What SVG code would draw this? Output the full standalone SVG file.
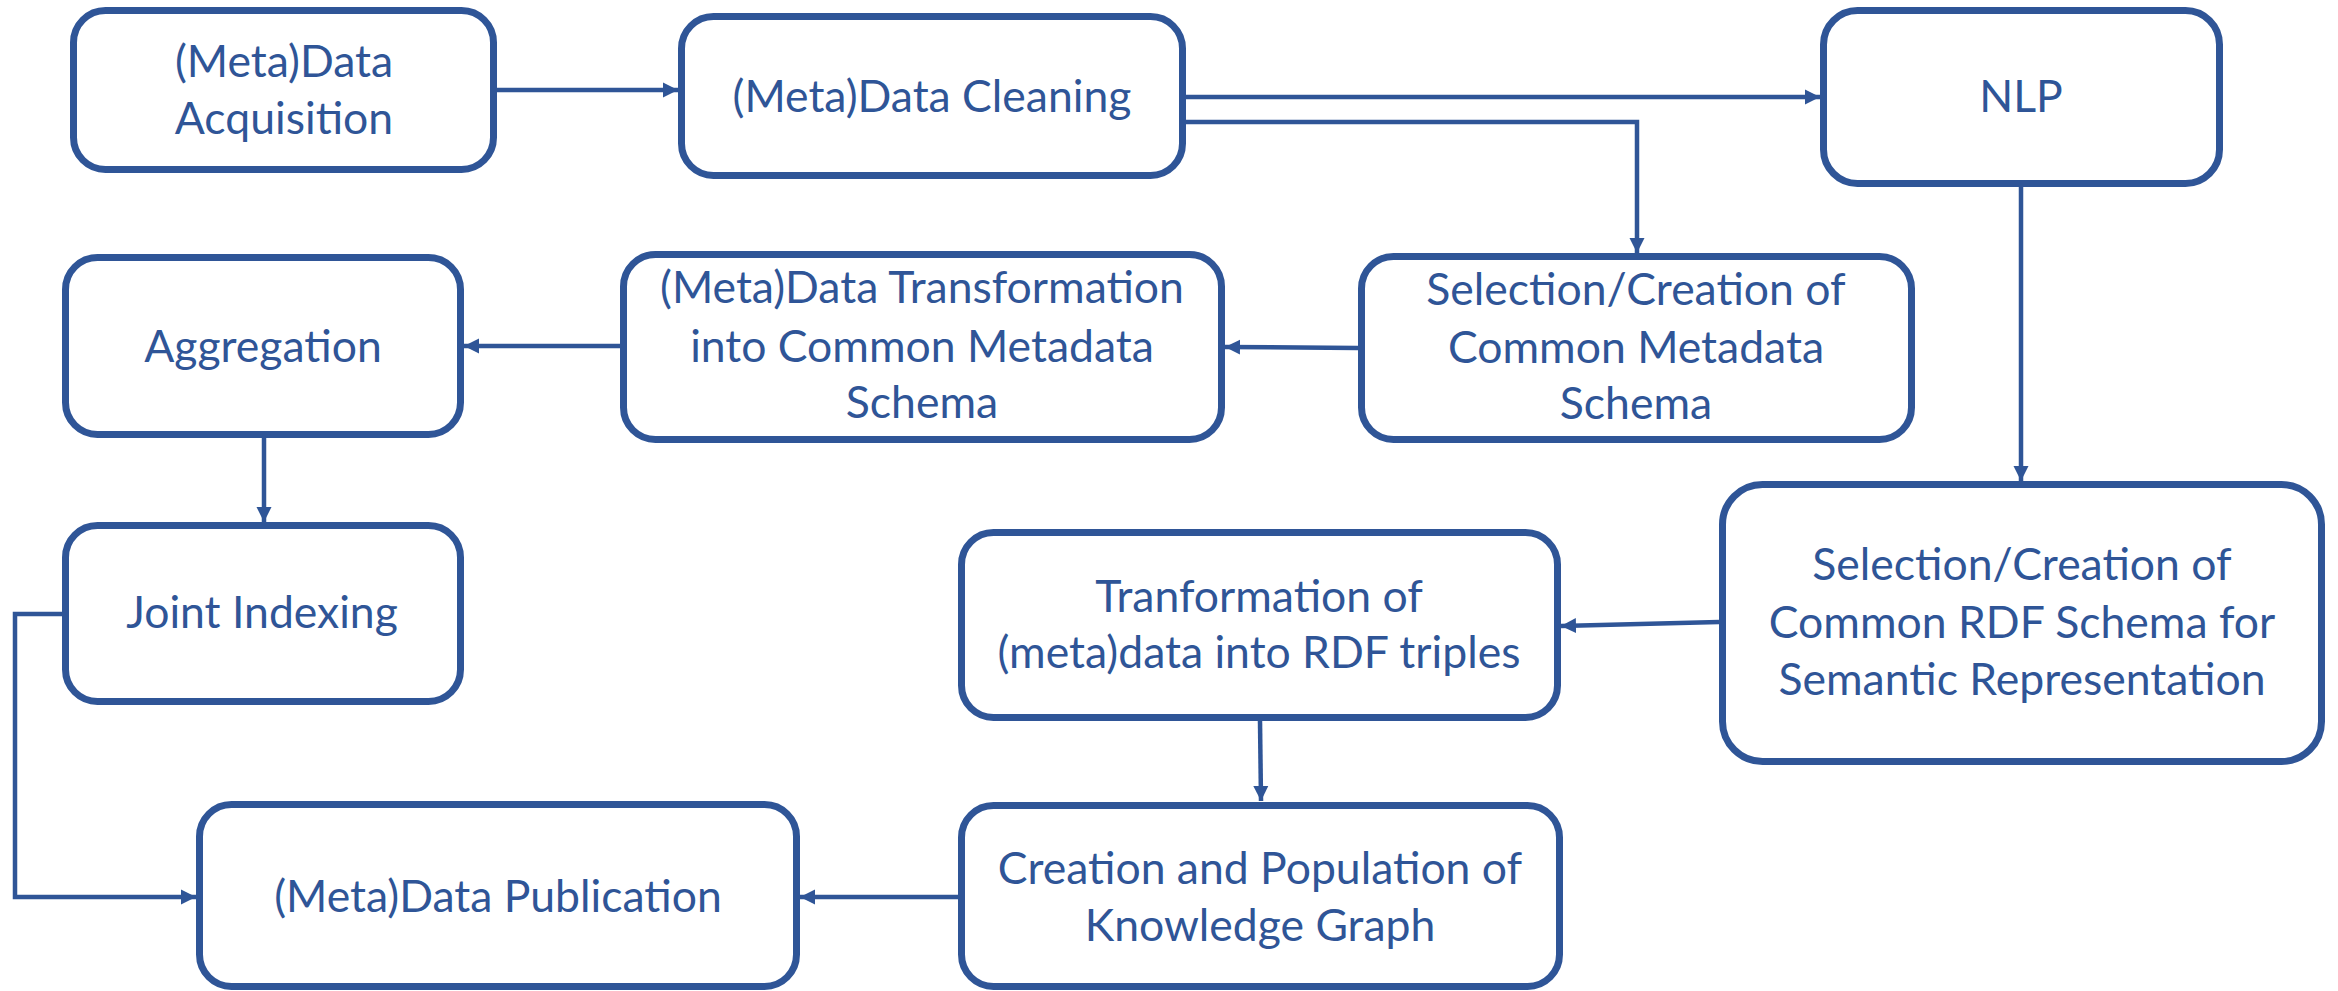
<svg xmlns="http://www.w3.org/2000/svg" width="2338" height="991" viewBox="0 0 2338 991">
<style>
.box{fill:#fff;stroke:#2F5597;stroke-width:7}
.t{font-family:Lato,"Liberation Sans",sans-serif;font-size:44.5px;fill:#2F5597;text-anchor:middle}
.c{fill:none;stroke:#2F5597;stroke-width:4.5;marker-end:url(#ah)}
</style>
<defs>
<marker id="ah" markerUnits="userSpaceOnUse" markerWidth="16" markerHeight="16" refX="15" refY="8" orient="auto">
<path d="M0,0.5 L15,8 L0,15.5 Z" fill="#2F5597"/>
</marker>
</defs>
<rect width="2338" height="991" fill="#fff"/>
<g id="connectors">
<path class="c" d="M497,90 L678,90"/>
<path class="c" d="M1186,97 L1820,97"/>
<path class="c" d="M1186,122 L1637,122 L1637,253"/>
<path class="c" d="M1358,348 L1225,347"/>
<path class="c" d="M620,346 L464,346"/>
<path class="c" d="M264,438 L264,522"/>
<path class="c" d="M62,614 L15,614 L15,897 L196,897"/>
<path class="c" d="M2021,187 L2021,481"/>
<path class="c" d="M1719,622 L1561,626"/>
<path class="c" d="M1260,721 L1261,801"/>
<path class="c" d="M958,897 L800,897"/>
</g>
<g id="acquisition"><rect class="box" x="73.5" y="10.5" width="420" height="159" rx="32"/><text class="t" x="284" y="77">(Meta)Data</text><text class="t" x="284" y="134">Acquisition</text></g>
<g id="cleaning"><rect class="box" x="681.5" y="16.5" width="501" height="159" rx="32"/><text class="t" x="932" y="112">(Meta)Data Cleaning</text></g>
<g id="nlp"><rect class="box" x="1823.5" y="10.5" width="396" height="173" rx="34"/><text class="t" x="2021" y="112">NLP</text></g>
<g id="aggregation"><rect class="box" x="65.5" y="257.5" width="395" height="177" rx="32"/><text class="t" x="263" y="362">Aggregation</text></g>
<g id="transformation"><rect class="box" x="623.5" y="254.5" width="598" height="185" rx="32"/><text class="t" x="922" y="303">(Meta)Data Transformation</text><text class="t" x="922" y="362">into Common Metadata</text><text class="t" x="922" y="418">Schema</text></g>
<g id="selection-metadata"><rect class="box" x="1361.5" y="256.5" width="550" height="183" rx="32"/><text class="t" x="1636" y="305">Selection/Creation of</text><text class="t" x="1636" y="363">Common Metadata</text><text class="t" x="1636" y="419">Schema</text></g>
<g id="joint-indexing"><rect class="box" x="65.5" y="525.5" width="395" height="176" rx="32"/><text class="t" x="262" y="628">Joint Indexing</text></g>
<g id="rdf-triples"><rect class="box" x="961.5" y="532.5" width="596" height="185" rx="32"/><text class="t" x="1259" y="612">Tranformation of</text><text class="t" x="1259" y="668">(meta)data into RDF triples</text></g>
<g id="rdf-schema"><rect class="box" x="1722.5" y="484.5" width="599" height="277" rx="40"/><text class="t" x="2022" y="580">Selection/Creation of</text><text class="t" x="2022" y="638">Common RDF Schema for</text><text class="t" x="2022" y="695">Semantic Representation</text></g>
<g id="publication"><rect class="box" x="199.5" y="804.5" width="597" height="182" rx="32"/><text class="t" x="498" y="912">(Meta)Data Publication</text></g>
<g id="knowledge-graph"><rect class="box" x="961.5" y="805.5" width="598" height="181" rx="32"/><text class="t" x="1260" y="884">Creation and Population of</text><text class="t" x="1260" y="941">Knowledge Graph</text></g>
</svg>
